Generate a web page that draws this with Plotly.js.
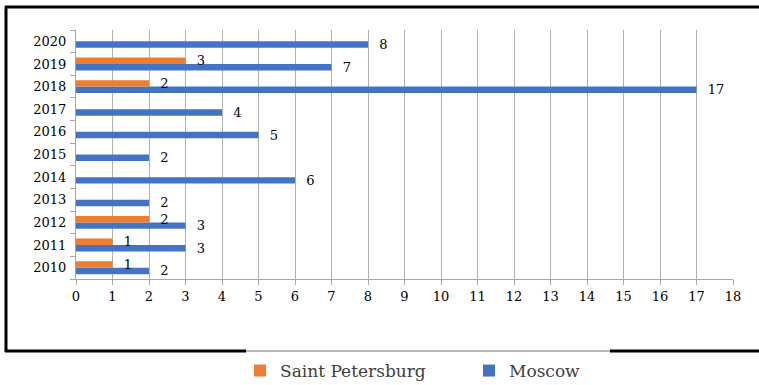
<!DOCTYPE html>
<html>
<head>
<meta charset="utf-8">
<script src="https://cdn.plot.ly/plotly-3.0.1.min.js"></script>
<style>html,body{margin:0;padding:0;background:#fff;}#chart{width:759px;height:385px;}</style>
</head>
<body>
<div id="chart"></div>
<script>
var years = ['2010','2011','2012','2013','2014','2015','2016','2017','2018','2019','2020'];
var moscow = [2, 3, 3, 2, 6, 2, 5, 4, 17, 7, 8];
var saintPetersburg = [1, 1, 2, 0, 0, 0, 0, 0, 2, 3, 0];
var xTicks = [0,1,2,3,4,5,6,7,8,9,10,11,12,13,14,15,16,17,18];

var SERIF = 'DejaVu Serif';
function labels(arr){ return arr.map(function(v){ return v ? '\u00a0\u00a0' + v : ''; }); }

var L = 76, R = 733, T = 30, B = 279;
function px(x){ return (x - L) / (R - L); }
function py(y){ return (B - y) / (B - T); }

var traces = [
  {type:'bar', orientation:'h', name:'Moscow', y:years, x:moscow,
   marker:{color:'#4472C4'}, text:labels(moscow), textposition:'outside',
   constraintext:'none', cliponaxis:false,
   textfont:{family:SERIF, size:13, color:'#000'}, hoverinfo:'x+y'},
  {type:'bar', orientation:'h', name:'Saint Petersburg', y:years, x:saintPetersburg,
   marker:{color:'#ED7D31'}, text:labels(saintPetersburg), textposition:'outside',
   constraintext:'none', cliponaxis:false,
   textfont:{family:SERIF, size:13, color:'#000'}, hoverinfo:'x+y'}
];

var layout = {
  width:759, height:385,
  font:{family:SERIF},
  margin:{l:L, r:759-R, t:T, b:385-B, autoexpand:false},
  paper_bgcolor:'#fff', plot_bgcolor:'#fff',
  barmode:'group', bargap:0.43, bargroupgap:0,
  showlegend:true,
  legend:{orientation:'h', traceorder:'reversed', xref:'container', yref:'container',
          x:240/759, xanchor:'left', y:1-353/385, yanchor:'top',
          font:{family:SERIF, size:17, color:'#404040'}, entrywidth:184, entrywidthmode:'pixels',
          bgcolor:'rgba(0,0,0,0)'},
  xaxis:{range:[0,18], tickvals:xTicks, ticktext:xTicks.map(String), showgrid:true, gridcolor:'#b0b0b0', gridwidth:1,
         zeroline:false, showline:true, linecolor:'#a6a6a6', ticks:'outside', ticklen:5, tickcolor:'#a6a6a6',
         tickfont:{family:SERIF, size:13, color:'#000'}, fixedrange:true},
  yaxis:{type:'category', categoryorder:'array', categoryarray:years, showgrid:false, zeroline:false,
         showline:true, linecolor:'#a6a6a6', ticks:'outside', ticklen:5, tickcolor:'#a6a6a6', tickson:'boundaries',
         ticklabelstandoff:6,
         tickfont:{family:SERIF, size:13, color:'#000'}, fixedrange:true},
  shapes:[
    {type:'line', xref:'paper', yref:'paper', x0:px(6), x1:px(6), y0:py(6), y1:py(352), line:{color:'#000', width:3}},
    {type:'line', xref:'paper', yref:'paper', x0:px(5), x1:px(762), y0:py(7), y1:py(7), line:{color:'#000', width:3}},
    {type:'line', xref:'paper', yref:'paper', x0:px(5), x1:px(246), y0:py(351), y1:py(351), line:{color:'#000', width:3}},
    {type:'line', xref:'paper', yref:'paper', x0:px(246), x1:px(610), y0:py(351), y1:py(351), line:{color:'#6e6e6e', width:1.2}},
    {type:'line', xref:'paper', yref:'paper', x0:px(610), x1:px(762), y0:py(351), y1:py(351), line:{color:'#000', width:3}}
  ]
};

Plotly.newPlot('chart', traces, layout, {displayModeBar:false, staticPlot:true});
</script>
</body>
</html>
